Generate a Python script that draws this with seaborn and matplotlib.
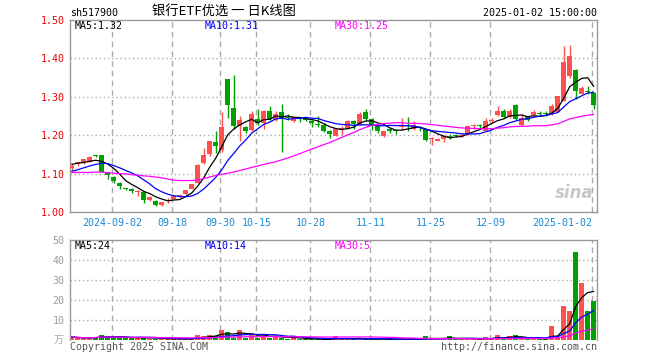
import numpy as np
import pandas as pd
import matplotlib
matplotlib.use("Agg")
import matplotlib.pyplot as plt
import seaborn as sns

# ---------------- data ----------------
open_ = [1.115, 1.126, 1.128, 1.131, 1.147, 1.148, 1.103, 1.092, 1.076, 1.061,
         1.061, 1.053, 1.051, 1.031, 1.029, 1.018, 1.030, 1.035, 1.038, 1.046,
         1.060, 1.076, 1.127, 1.150, 1.183, 1.161, 1.346, 1.271, 1.223, 1.221,
         1.214, 1.242, 1.232, 1.264, 1.240, 1.260, 1.246, 1.237, 1.243, 1.241,
         1.238, 1.228, 1.227, 1.210, 1.198, 1.214, 1.218, 1.238, 1.227, 1.261,
         1.243, 1.223, 1.199, 1.216, 1.212, 1.222, 1.226, 1.216, 1.219, 1.216,
         1.189, 1.186, 1.190, 1.197, 1.200, 1.198, 1.203, 1.224, 1.225, 1.212,
         1.238, 1.253, 1.262, 1.248, 1.278, 1.227, 1.249, 1.252, 1.257, 1.257,
         1.254, 1.261, 1.290, 1.353, 1.369, 1.308, 1.313, 1.311]
high = [1.125, 1.131, 1.139, 1.146, 1.149, 1.149, 1.104, 1.093, 1.077, 1.063,
        1.062, 1.057, 1.053, 1.041, 1.030, 1.027, 1.037, 1.043, 1.047, 1.057,
        1.074, 1.125, 1.166, 1.186, 1.212, 1.260, 1.347, 1.357, 1.249, 1.225,
        1.262, 1.267, 1.266, 1.277, 1.262, 1.280, 1.254, 1.250, 1.247, 1.244,
        1.240, 1.249, 1.232, 1.214, 1.218, 1.224, 1.239, 1.240, 1.260, 1.267,
        1.244, 1.224, 1.211, 1.218, 1.214, 1.245, 1.247, 1.236, 1.224, 1.217,
        1.196, 1.192, 1.200, 1.203, 1.203, 1.203, 1.225, 1.230, 1.230, 1.246,
        1.245, 1.277, 1.267, 1.267, 1.280, 1.256, 1.250, 1.265, 1.262, 1.262,
        1.280, 1.303, 1.432, 1.435, 1.372, 1.327, 1.328, 1.312]
low = [1.108, 1.120, 1.126, 1.130, 1.143, 1.103, 1.085, 1.076, 1.061, 1.057,
       1.049, 1.041, 1.024, 1.029, 1.015, 1.016, 1.024, 1.034, 1.037, 1.045,
       1.059, 1.075, 1.125, 1.145, 1.154, 1.157, 1.245, 1.216, 1.186, 1.207,
       1.212, 1.227, 1.216, 1.240, 1.236, 1.157, 1.240, 1.234, 1.235, 1.236,
       1.221, 1.222, 1.209, 1.194, 1.197, 1.201, 1.217, 1.216, 1.226, 1.236,
       1.214, 1.205, 1.196, 1.207, 1.202, 1.214, 1.210, 1.213, 1.212, 1.186,
       1.175, 1.184, 1.183, 1.189, 1.195, 1.196, 1.200, 1.216, 1.216, 1.210,
       1.234, 1.251, 1.246, 1.246, 1.240, 1.225, 1.236, 1.251, 1.250, 1.250,
       1.253, 1.260, 1.288, 1.350, 1.293, 1.306, 1.307, 1.267]
close = [1.120, 1.129, 1.137, 1.143, 1.145, 1.104, 1.097, 1.080, 1.067, 1.060,
         1.055, 1.055, 1.032, 1.038, 1.018, 1.026, 1.032, 1.042, 1.044, 1.056,
         1.073, 1.122, 1.148, 1.185, 1.172, 1.221, 1.278, 1.223, 1.240, 1.212,
         1.254, 1.233, 1.264, 1.243, 1.256, 1.243, 1.244, 1.247, 1.241, 1.240,
         1.232, 1.227, 1.210, 1.202, 1.216, 1.220, 1.238, 1.228, 1.256, 1.242,
         1.224, 1.210, 1.210, 1.211, 1.211, 1.224, 1.225, 1.227, 1.218, 1.188,
         1.194, 1.191, 1.197, 1.196, 1.199, 1.200, 1.224, 1.226, 1.224, 1.238,
         1.240, 1.262, 1.248, 1.264, 1.243, 1.246, 1.240, 1.260, 1.256, 1.256,
         1.275, 1.302, 1.391, 1.407, 1.315, 1.324, 1.312, 1.278]
volume = [1.5, 1.0, 1.0, 1.0, 1.5, 2.5, 2.0, 1.2, 1.0, 1.0,
          1.0, 1.5, 1.0, 0.7, 0.7, 0.5, 0.5, 0.5, 0.5, 0.5,
          0.7, 2.5, 2.0, 2.5, 2.2, 5.0, 4.0, 1.2, 5.0, 1.2,
          3.3, 1.2, 2.3, 1.2, 1.7, 1.2, 0.5, 1.7, 0.3, 0.3,
          0.3, 0.3, 0.3, 0.3, 2.0, 0.5, 0.5, 0.3, 0.7, 0.7,
          0.4, 0.4, 0.4, 0.4, 0.4, 0.4, 0.4, 0.4, 0.4, 2.0,
          0.5, 0.5, 0.5, 2.0, 0.5, 0.5, 0.5, 0.5, 0.5, 1.5,
          0.5, 2.5, 0.5, 2.0, 2.5, 0.5, 0.5, 0.5, 0.5, 0.5,
          7.0, 1.5, 17.0, 14.5, 44.0, 28.7, 14.5, 19.5]
# moving-average values at the start of the window (history before it is not shown)
ma5_head = [1.124, 1.127, 1.129, 1.132]
ma10_head = [1.106, 1.110, 1.115, 1.120, 1.124, 1.127, 1.126, 1.121, 1.115]
ma30_head = [1.103, 1.103, 1.103, 1.103, 1.104, 1.104, 1.102, 1.101, 1.100, 1.099,
             1.097, 1.096, 1.094, 1.093, 1.091, 1.089, 1.086, 1.083, 1.082, 1.082,
             1.082, 1.083, 1.087, 1.091, 1.095, 1.098, 1.101, 1.104, 1.108]

tick_idx = [7, 17, 25, 31, 40, 50, 60, 70, 87]
tick_labels = ["2024-09-02", "09-18", "09-30", "10-15", "10-28",
               "11-11", "11-25", "12-09", "2025-01-02"]
price_ticks = [1.00, 1.10, 1.20, 1.30, 1.40, 1.50]
vol_ticks = [10, 20, 30, 40, 50]
price_ma_labels = ["MA5:1.32", "MA10:1.31", "MA30:1.25"]
vol_ma_labels = ["MA5:24", "MA10:14", "MA30:5"]
ma_colors = ["#000000", "#0000ff", "#ff00ff"]

# ---------------- derived ----------------
n = len(close)
df = pd.DataFrame({"i": np.arange(n), "o": open_, "h": high, "l": low,
                   "c": close, "v": volume})
up = df["c"] >= df["o"]
RED, GREEN = "#ff5050", "#00a000"
cols = np.where(up, RED, GREEN)

ma = {}
for k, head in ((5, ma5_head), (10, ma10_head), (30, ma30_head)):
    s = df["c"].rolling(k).mean()
    s.iloc[:len(head)] = head
    ma[k] = s
vma = {k: df["v"].rolling(k, min_periods=1).mean() for k in (5, 10, 30)}

# ---------------- figure ----------------
sns.set_style("white")
plt.rcParams["font.family"] = ["DejaVu Sans Mono", "Noto Sans CJK SC"]
FS = 7.2

W, H = 660, 360
fig = plt.figure(figsize=(6.6, 3.6), dpi=100)


def rect(l, t, r, b):
    return [l / W, 1 - b / H, (r - l) / W, (b - t) / H]


axp = fig.add_axes(rect(70, 20, 597, 212))
axv = fig.add_axes(rect(70, 240, 597, 340))

xlim = (-0.28, 87.55)
GRID = "#aaaaaa"

for ax in (axp, axv):
    ax.set_xlim(*xlim)
    for s in ax.spines.values():
        s.set_color("#999999")
        s.set_linewidth(1.0)
    for t in tick_idx:
        ax.axvline(t - 0.2, color=GRID, lw=1.0, ls=(0, (4, 3)), zorder=0)
    ax.tick_params(length=0)

# price panel
axp.set_ylim(1.0, 1.5)
for y in price_ticks[1:-1]:
    axp.axhline(y, color=GRID, lw=1.0, ls=(0, (1, 2)), zorder=0)
axp.vlines(df["i"], df["l"], df["h"], colors=cols, lw=1.0, zorder=2)
body_bottom = np.minimum(df["o"], df["c"])
body_h = np.maximum(np.abs(df["c"] - df["o"]), 0.0025)
axp.bar(df["i"], body_h, bottom=body_bottom, width=0.8, color=cols,
        linewidth=0, zorder=3)
for k, colr in zip((5, 10, 30), ma_colors):
    sns.lineplot(x=df["i"], y=ma[k], ax=axp, color=colr, lw=0.9, zorder=4)
axp.set_xlabel("")
axp.set_ylabel("")
axp.set_yticks(price_ticks)
axp.set_yticklabels([f"{t:.2f}" for t in price_ticks], color="#ee0000",
                    fontsize=FS)
axp.tick_params(axis="y", pad=4)
axp.set_xticks([t - 0.2 for t in tick_idx])
axp.set_xticklabels(tick_labels, color="#1a8ad4", fontsize=FS)
axp.tick_params(axis="x", pad=4)
axp.get_xticklabels()[-1].set_ha("right")

# volume panel
axv.set_ylim(0, 50)
for y in vol_ticks[:-1]:
    axv.axhline(y, color=GRID, lw=1.0, ls=(0, (1, 2)), zorder=0)
axv.bar(df["i"], df["v"], width=0.8, color=cols, linewidth=0, zorder=2)
for k, colr in zip((5, 10, 30), ma_colors):
    sns.lineplot(x=df["i"], y=vma[k], ax=axv, color=colr, lw=0.9, zorder=4)
axv.set_xlabel("")
axv.set_ylabel("")
axv.set_yticks(vol_ticks)
axv.set_yticklabels([str(t) for t in vol_ticks], color="#999999", fontsize=FS)
axv.tick_params(axis="y", pad=4)
axv.set_xticks([])
axv.spines["bottom"].set_visible(False)
axv.text(-0.012, 0.0, "万", transform=axv.transAxes, ha="right", va="center",
         fontsize=FS, color="#aaaaaa", family=["Noto Sans CJK SC"])

# MA labels
for ax, labels, yc in ((axp, price_ma_labels, 1 - 6 / 192),
                       (axv, vol_ma_labels, 0.94)):
    for lab, colr, xp in zip(labels, ma_colors, (75, 205, 335)):
        ax.text((xp - 70) / 527, yc, lab, transform=ax.transAxes, ha="left",
                va="center", fontsize=FS, color=colr, zorder=6)

# header & footer texts
fig.text(70 / W, 1 - 13 / H, "sh517900", ha="left", va="center", fontsize=FS,
         color="#000000")
fig.text(224 / W, 1 - 12.5 / H, "银行ETF优选 一 日K线图", ha="center",
         va="center", fontsize=9.5, color="#000000",
         family=["Noto Sans CJK SC", "DejaVu Sans Mono"])
fig.text(597 / W, 1 - 13 / H, "2025-01-02 15:00:00", ha="right", va="center",
         fontsize=FS, color="#000000")
fig.text(70 / W, 1 - 347 / H, "Copyright 2025 SINA.COM", ha="left", va="center",
         fontsize=FS, color="#555555")
fig.text(597 / W, 1 - 347 / H, "http://finance.sina.com.cn", ha="right",
         va="center", fontsize=FS, color="#555555")

# sina watermark
axp.text(0.993, 0.05, "sina", transform=axp.transAxes, ha="right",
         va="bottom", fontsize=12, color="#c8c8c8", style="italic",
         weight="bold", family=["DejaVu Sans"], zorder=1)

fig.savefig("out.png", dpi=100)
